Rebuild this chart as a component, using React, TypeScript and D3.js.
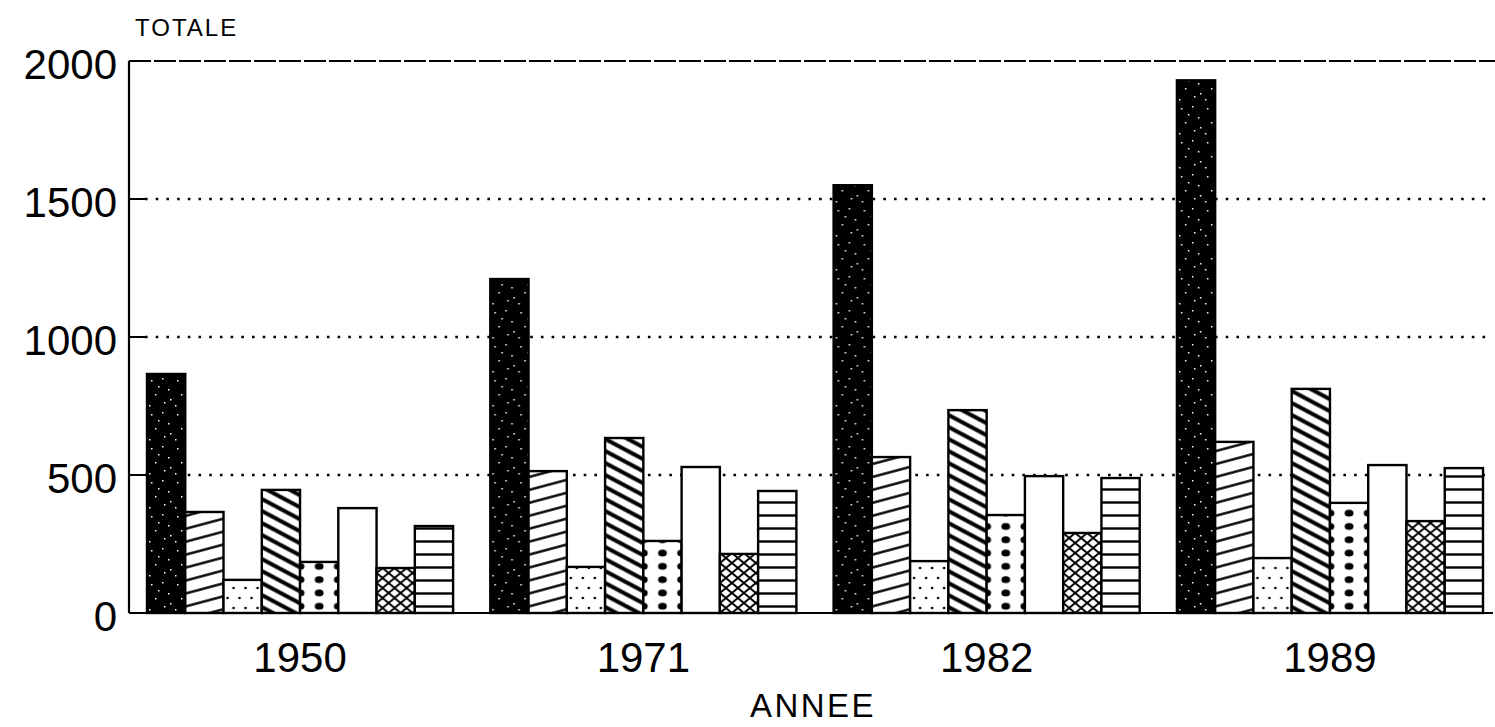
import { useEffect, useRef } from "react";
import * as d3 from "d3";

const years = ["1950", "1971", "1982", "1989"];

// one array per bar pattern, values by year
const noir = [866, 1210, 1550, 1930];
const obliques = [366, 514, 565, 620];
const pointilles = [120, 167, 188, 199];
const hachures = [446, 634, 735, 812];
const pois = [185, 261, 355, 399];
const blanc = [380, 529, 496, 536];
const croisillons = [163, 214, 290, 333];
const horizontales = [315, 442, 489, 525];

const seriesKeys = [
	"noir",
	"obliques",
	"pointilles",
	"hachures",
	"pois",
	"blanc",
	"croisillons",
	"horizontales"
];
const seriesValues: Record<string, number[]> = {
	noir,
	obliques,
	pointilles,
	hachures,
	pois,
	blanc,
	croisillons,
	horizontales
};

const yTicks = [0, 500, 1000, 1500, 2000];
const yTitle = "TOTALE";
const xTitle = "ANNEE";

const FONT = "'Liberation Sans', Arial, sans-serif";

export default function App() {
	const containerRef = useRef<HTMLDivElement>(null);

	useEffect(() => {
		if (!containerRef.current) return;
		const container = containerRef.current;
		const width = 1495;
		const height = 727;

		const svg = d3
			.select(container)
			.append("svg")
			.attr("width", width)
			.attr("height", height)
			.style("position", "absolute")
			.style("left", 0)
			.style("top", 0)
			.style("background", "#fff");

		const axisX = 129;
		const plotRight = 1493;
		const y = d3.scaleLinear().domain([0, 2000]).range([613, 61]);
		const x0 = d3.scaleBand().domain(years).range([147, 1483]).paddingInner(0.1084).paddingOuter(0);
		const x1 = d3.scaleBand().domain(seriesKeys).range([0, x0.bandwidth()]).padding(0);
		const bw = x1.bandwidth();

		// ---- patterns
		const defs = svg.append("defs");

		const speck = defs
			.append("pattern")
			.attr("id", "pat-noir")
			.attr("patternUnits", "userSpaceOnUse")
			.attr("width", 26)
			.attr("height", 34);
		speck.append("rect").attr("width", 26).attr("height", 34).attr("fill", "#000");
		const specks = [
			[4, 5], [15, 3], [21, 14], [8, 19], [17, 27], [2, 30], [11, 11], [23, 24]
		];
		speck
			.selectAll("rect.s")
			.data(specks)
			.join("rect")
			.attr("class", "s")
			.attr("x", (d) => d[0])
			.attr("y", (d) => d[1])
			.attr("width", 1.5)
			.attr("height", 1.5)
			.attr("fill", "#fff");

		const linePattern = (id: string, h: number, sw: number, angle: number) => {
			const p = defs
				.append("pattern")
				.attr("id", id)
				.attr("patternUnits", "userSpaceOnUse")
				.attr("width", 20)
				.attr("height", h)
				.attr("patternTransform", `rotate(${angle})`);
			p.append("rect").attr("width", 20).attr("height", h).attr("fill", "#fff");
			p.append("line")
				.attr("x1", -1)
				.attr("x2", 21)
				.attr("y1", h / 2)
				.attr("y2", h / 2)
				.attr("stroke", "#000")
				.attr("stroke-width", sw);
		};
		linePattern("pat-obliques", 12.5, 2.4, -15);
		linePattern("pat-hachures", 10.6, 4, 28);
		linePattern("pat-horizontales", 13, 2.4, 0);

		const dots = defs
			.append("pattern")
			.attr("id", "pat-pointilles")
			.attr("patternUnits", "userSpaceOnUse")
			.attr("width", 12)
			.attr("height", 20);
		dots.append("rect").attr("width", 12).attr("height", 20).attr("fill", "#fff");
		dots.append("circle").attr("cx", 4).attr("cy", 5).attr("r", 1.3).attr("fill", "#000");
		dots.append("circle").attr("cx", 10).attr("cy", 15).attr("r", 1.3).attr("fill", "#000");

		const bullets = defs
			.append("pattern")
			.attr("id", "pat-pois")
			.attr("patternUnits", "userSpaceOnUse")
			.attr("width", bw / 2)
			.attr("height", 13.3);
		bullets.append("rect").attr("width", bw / 2).attr("height", 13.3).attr("fill", "#fff");
		[0, bw / 2].forEach((cx) =>
			bullets
				.append("ellipse")
				.attr("cx", cx)
				.attr("cy", 6.6)
				.attr("rx", 4.4)
				.attr("ry", 3.4)
				.attr("fill", "#000")
		);

		const cross = defs
			.append("pattern")
			.attr("id", "pat-croisillons")
			.attr("patternUnits", "userSpaceOnUse")
			.attr("width", 12)
			.attr("height", 10);
		cross.append("rect").attr("width", 12).attr("height", 10).attr("fill", "#fff");
		cross.append("path").attr("d", "M-1,-0.83 L13,10.83 M13,-0.83 L-1,10.83").attr("stroke", "#000").attr("stroke-width", 2);

		defs.append("pattern")
			.attr("id", "pat-blanc")
			.attr("patternUnits", "userSpaceOnUse")
			.attr("width", 10)
			.attr("height", 10)
			.append("rect")
			.attr("width", 10)
			.attr("height", 10)
			.attr("fill", "#fff");

		// ---- grid
		const grid = svg.append("g");
		grid
			.selectAll("line.grid")
			.data(yTicks.filter((t) => t > 0 && t < 2000))
			.join("line")
			.attr("class", "grid")
			.attr("x1", axisX + 16)
			.attr("x2", plotRight)
			.attr("y1", (t) => y(t))
			.attr("y2", (t) => y(t))
			.attr("stroke", "#000")
			.attr("stroke-width", 2.6)
			.attr("stroke-dasharray", "2.6 8.1");
		grid
			.selectAll("line.tick")
			.data(yTicks.filter((t) => t > 0 && t < 2000))
			.join("line")
			.attr("class", "tick")
			.attr("x1", axisX)
			.attr("x2", axisX + 16)
			.attr("y1", (t) => y(t))
			.attr("y2", (t) => y(t))
			.attr("stroke", "#000")
			.attr("stroke-width", 2);
		grid
			.append("line")
			.attr("x1", axisX)
			.attr("x2", width)
			.attr("y1", y(2000))
			.attr("y2", y(2000))
			.attr("stroke", "#000")
			.attr("stroke-width", 2)
			.attr("stroke-dasharray", "22 3");

		// ---- bars
		const groups = svg
			.append("g")
			.selectAll("g.year")
			.data(years)
			.join("g")
			.attr("class", "year")
			.attr("transform", (yr) => `translate(${x0(yr)},0)`);

		groups
			.selectAll("g.bar")
			.data((yr) => seriesKeys.map((key) => ({ key, value: seriesValues[key][years.indexOf(yr)] })))
			.join("g")
			.attr("class", "bar")
			.attr("transform", (d) => `translate(${x1(d.key)},${y(0)})`)
			.append("rect")
			.attr("x", 0)
			.attr("y", (d) => y(d.value) - y(0))
			.attr("width", bw)
			.attr("height", (d) => y(0) - y(d.value))
			.attr("fill", (d) => `url(#pat-${d.key})`)
			.attr("stroke", "#000")
			.attr("stroke-width", 2.4);

		// ---- axes
		svg.append("line")
			.attr("x1", axisX)
			.attr("x2", axisX)
			.attr("y1", y(2000))
			.attr("y2", y(0))
			.attr("stroke", "#000")
			.attr("stroke-width", 2.2);
		svg.append("line")
			.attr("x1", axisX)
			.attr("x2", plotRight)
			.attr("y1", y(0))
			.attr("y2", y(0))
			.attr("stroke", "#000")
			.attr("stroke-width", 2.2);

		svg.append("g")
			.selectAll("text")
			.data(yTicks)
			.join("text")
			.attr("x", 117)
			.attr("y", (t) => y(t) + 3)
			.attr("text-anchor", "end")
			.attr("dominant-baseline", "central")
			.attr("font-family", FONT)
			.attr("font-size", 42)
			.attr("fill", "#000")
			.text((t) => `${t}`);

		svg.append("g")
			.selectAll("text")
			.data(years)
			.join("text")
			.attr("x", (yr) => (x0(yr) ?? 0) + x0.bandwidth() / 2)
			.attr("y", 672)
			.attr("text-anchor", "middle")
			.attr("font-family", FONT)
			.attr("font-size", 42)
			.attr("fill", "#000")
			.text((yr) => yr);

		svg.append("text")
			.attr("x", 813)
			.attr("y", 717)
			.attr("text-anchor", "middle")
			.attr("font-family", FONT)
			.attr("font-size", 33)
			.attr("letter-spacing", 2.5)
			.attr("fill", "#000")
			.text(xTitle);

		svg.append("text")
			.attr("x", 135)
			.attr("y", 36)
			.attr("font-family", FONT)
			.attr("font-size", 24)
			.attr("letter-spacing", 2)
			.attr("fill", "#000")
			.text(yTitle);

		return () => {
			svg.remove();
		};
	}, []);

	return <div ref={containerRef} style={{ width: 1495, height: 727 }} />;
}
